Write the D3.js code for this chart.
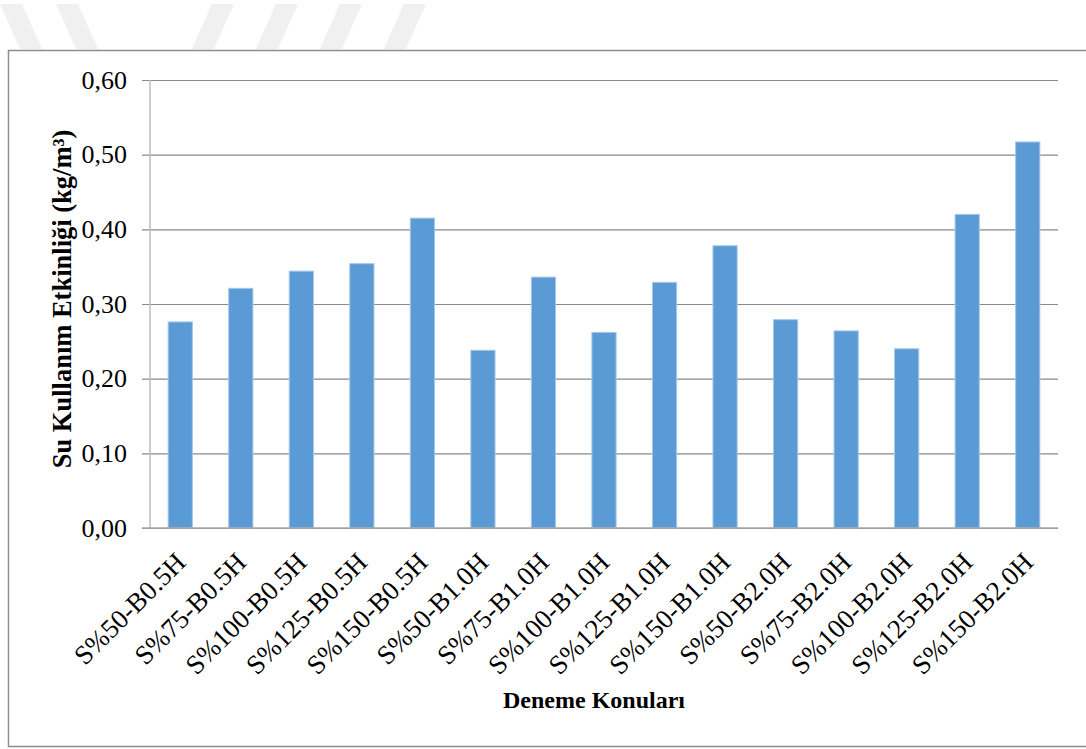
<!DOCTYPE html>
<html>
<head>
<meta charset="utf-8">
<script src="https://cdn.jsdelivr.net/npm/d3@7"></script>
<style>
  body { margin: 0; background: #fff; }
  svg { display: block; font-family: "Liberation Serif", "Times New Roman", serif; }
</style>
</head>
<body>
<script>
// chart data
const categories = [
  'S%50-B0.5H', 'S%75-B0.5H', 'S%100-B0.5H', 'S%125-B0.5H', 'S%150-B0.5H',
  'S%50-B1.0H', 'S%75-B1.0H', 'S%100-B1.0H', 'S%125-B1.0H', 'S%150-B1.0H',
  'S%50-B2.0H', 'S%75-B2.0H', 'S%100-B2.0H', 'S%125-B2.0H', 'S%150-B2.0H'
]
const values = [0.276, 0.321, 0.344, 0.354, 0.415, 0.238, 0.336, 0.262, 0.329, 0.378, 0.279, 0.264, 0.240, 0.420, 0.517]
const yTicks = [0, 0.1, 0.2, 0.3, 0.4, 0.5, 0.6]
const yTitle = 'Su Kullanım Etkinliği (kg/m³)'
const xTitle = 'Deneme Konuları'

const w = 1086
const h = 749
const pLeft = 150, pRight = 1058, pTop = 80, pBottom = 528

const svg = d3.select('body')
    .append('svg')
    .attr('width', w)
    .attr('height', h)

// faint watermark stripes at the top of the page
const stripes = [[0, 22, 20], [56, 22, 20], [212, 22, -20], [276, 22, -20], [340, 22, -20], [404, 22, -20]]
svg.append('g')
    .selectAll('path')
    .data(stripes)
    .enter()
    .append('path')
    .attr('d', d => `M${d[0]},4 L${d[0] + d[1]},4 L${d[0] + d[1] + d[2]},49 L${d[0] + d[2]},49 Z`)
    .attr('fill', '#f0f0f0')

// chart frame
svg.append('rect')
    .attr('x', 8.5)
    .attr('y', 50.5)
    .attr('width', 1100)
    .attr('height', 696)
    .attr('fill', 'none')
    .attr('stroke', '#8e8e8e')
    .attr('stroke-width', 1.5)

const x = d3.scaleBand()
    .domain(categories)
    .range([pLeft, pRight])
    .paddingInner(0.6)
    .paddingOuter(0.3)

const y = d3.scaleLinear()
    .domain([0, 0.6])
    .range([pBottom, pTop])

const fmt = d => d3.format('.2f')(d).replace('.', ',')

// horizontal gridlines + ticks
const yAxis = d3.axisLeft(y)
    .tickValues(yTicks)
    .tickFormat(fmt)
    .tickSize(-(pRight - pLeft))
    .tickPadding(23)

const gy = svg.append('g')
    .attr('transform', `translate(${pLeft},0)`)
    .call(yAxis)
gy.select('.domain').remove()
gy.selectAll('.tick line')
    .attr('x1', -8)
    .attr('stroke', '#8a8a8a')
    .attr('stroke-width', 1.2)
gy.selectAll('.tick text')
    .attr('font-size', '26px')
    .attr('font-family', '"Liberation Serif", "Times New Roman", serif')
    .attr('fill', '#000')

// vertical axis line
svg.append('line')
    .attr('x1', pLeft).attr('x2', pLeft)
    .attr('y1', pTop).attr('y2', pBottom)
    .attr('stroke', '#bdbdbd')
    .attr('stroke-width', 1.5)

// bars
svg.append('g')
    .selectAll('rect')
    .data(values)
    .enter()
    .append('rect')
    .attr('x', (d, i) => x(categories[i]))
    .attr('y', d => y(d))
    .attr('width', x.bandwidth())
    .attr('height', d => y(0) - y(d))
    .attr('fill', '#5b9bd5')
    .attr('stroke', '#a7c7e9')
    .attr('stroke-width', 1)

// category axis line
svg.append('line')
    .attr('x1', pLeft - 8).attr('x2', pRight)
    .attr('y1', pBottom).attr('y2', pBottom)
    .attr('stroke', '#a6a6a6')
    .attr('stroke-width', 1.5)

// rotated category labels
svg.append('g')
    .selectAll('text')
    .data(categories)
    .enter()
    .append('text')
    .attr('transform', d => `translate(${x(d) + x.bandwidth() / 2 + 7},${pBottom + 36}) rotate(-45)`)
    .attr('text-anchor', 'end')
    .attr('font-size', '27px')
    .text(d => d)

// axis titles
svg.append('text')
    .attr('transform', `translate(71,${(pTop + pBottom) / 2 - 5}) rotate(-90)`)
    .attr('text-anchor', 'middle')
    .attr('font-size', '26.5px')
    .attr('font-weight', 'bold')
    .text(yTitle)

svg.append('text')
    .attr('x', 594)
    .attr('y', 708)
    .attr('text-anchor', 'middle')
    .attr('font-size', '24px')
    .attr('font-weight', 'bold')
    .text(xTitle)
</script>
</body>
</html>
